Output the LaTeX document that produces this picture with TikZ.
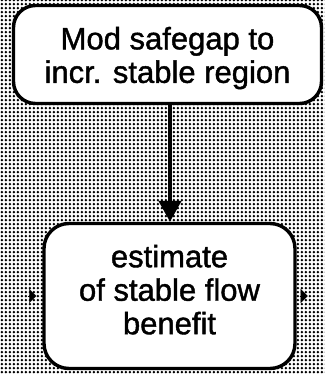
\documentclass[tikz,border=0pt]{standalone}
\usepackage{fontspec}
\setmainfont[FakeBold=1.3]{Liberation Sans}
\usetikzlibrary{arrows.meta,patterns.meta,calc}

% halftone dot screen used for the page background
\tikzdeclarepattern{
  name=halftone,
  type=uncolored,
  bottom left={(0,0)},
  top right={(3.9bp,3.9bp)},
  tile size={(3.9bp,3.9bp)},
  code={\fill (1.95bp,1.95bp) circle (1.4bp);}
}

% invisible struts that set the vertical placement of the box texts
\newcommand\raiseline[1]{\rule{0pt}{#1}}
\newcommand\dropline[1]{\rule[-#1]{0pt}{0pt}}

\tikzset{
  procbox/.style={draw=black, fill=white, line width=3.4bp, rounded corners=22bp,
    align=center, inner sep=0pt,
    font=\fontsize{31bp}{33.5bp}\selectfont},
  flow/.style={line width=4.5bp, -{Triangle[length=21bp,width=22bp]}},
  stub/.style={-{Triangle[length=7bp,width=14bp]}, line width=0.1bp},
}

\begin{document}
\begin{tikzpicture}[x=1bp,y=-1bp]
  \useasboundingbox (0,0) rectangle (325,374);
  \fill[pattern=halftone, pattern color=black] (0,0) rectangle (325,374);

  \node[procbox, minimum width=308bp, minimum height=98bp] (mod)
    at (167.5,54.5) {\raiseline{29.6bp}Mod safegap to\\incr. stable region};
  \node[procbox, minimum width=251bp, minimum height=145bp, rounded corners=25bp] (est)
    at (169.5,296) {estimate\\of stable flow\\benefit\dropline{13bp}};

  \draw[flow] (mod.south -| 170,0) -- (est.north -| 170,0);

  % inflow and outflow tips at the sides of the estimate box
  \coordinate (inA) at ($(est.west)+(-14bp,0)$);
  \coordinate (inB) at ($(est.west)+(-6bp,0)$);
  \coordinate (outA) at ($(est.east)+(3bp,0)$);
  \coordinate (outB) at ($(est.east)+(11bp,0)$);
  \draw[stub] (inA) -- (inB);
  \draw[stub] (outA) -- (outB);
\end{tikzpicture}
\end{document}
